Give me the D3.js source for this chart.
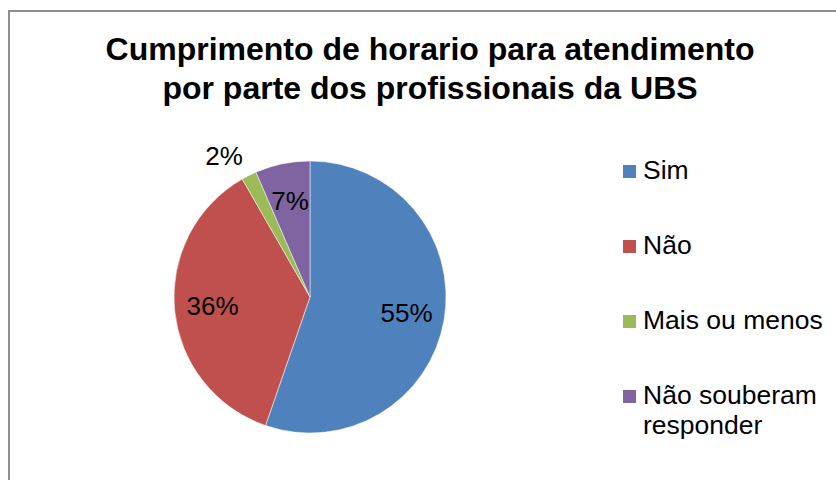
<!DOCTYPE html>
<html lang="pt">
<head>
<meta charset="utf-8">
<title>Cumprimento de horario</title>
<script src="https://cdn.jsdelivr.net/npm/d3@7"></script>
<style>
  body { margin: 0; background: #fff; }
  text { font-family: "Liberation Sans", Arial, sans-serif; }
</style>
</head>
<body>
<script>
// data
var categories = ["Sim", "Não", "Mais ou menos", "Não souberam responder"];
var values = [55.3, 36.4, 1.8, 6.5];
var colors = ["#4F81BD", "#C0504D", "#9BBB59", "#8064A2"];
var titleLines = ["Cumprimento de horario para atendimento", "por parte dos profissionais da UBS"];

var width = 836, height = 480;
var svg = d3.select("body").append("svg")
    .attr("width", width)
    .attr("height", height);

// chart frame
svg.append("rect")
    .attr("x", 9).attr("y", 11)
    .attr("width", 900).attr("height", 600)
    .attr("fill", "none")
    .attr("stroke", "#8e8e8e")
    .attr("stroke-width", 2);

// title
svg.append("g").selectAll("text")
    .data(titleLines)
  .enter().append("text")
    .attr("x", 430)
    .attr("y", function(d, i) { return 60 + i * 39; })
    .attr("text-anchor", "middle")
    .style("font-size", "32px")
    .style("font-weight", "bold")
    .text(function(d) { return d; });

// pie
var cx = 310, cy = 297, r = 136;
var pie = d3.pie().sort(null).value(function(d) { return d; });
var arcs = pie(values);
var arc = d3.arc().innerRadius(0).outerRadius(r);
var labelArc = d3.arc().innerRadius(r * 0.72).outerRadius(r * 0.72);
var outerArc = d3.arc().innerRadius(r * 1.1).outerRadius(r * 1.1);

function isSmall(d) { return (d.endAngle - d.startAngle) < 0.2; }

var g = svg.append("g").attr("transform", "translate(" + cx + "," + cy + ")");
g.selectAll("path")
    .data(arcs)
  .enter().append("path")
    .attr("d", arc)
    .attr("fill", function(d, i) { return colors[i]; })
    .attr("stroke", "#fff")
    .attr("stroke-width", 0.5);

g.selectAll("text.lbl")
    .data(arcs)
  .enter().append("text")
    .attr("class", "lbl")
    .attr("transform", function(d) {
      // small slices get the label outside, next to the rim
      if (isSmall(d)) {
        var o = outerArc.centroid(d);
        return "translate(" + o[0] + "," + (o[1] + 2) + ")";
      }
      var c = labelArc.centroid(d);
      return "translate(" + c[0] + "," + (c[1] + 9) + ")";
    })
    .attr("text-anchor", function(d) {
      if (!isSmall(d)) return "middle";
      return outerArc.centroid(d)[0] < 0 ? "end" : "start";
    })
    .style("font-size", "26px")
    .attr("fill", "#000")
    .text(function(d) { return Math.round(d.data) + "%"; });

// legend
var legend = svg.append("g").attr("transform", "translate(623,165)");
var item = legend.selectAll("g")
    .data(categories)
  .enter().append("g")
    .attr("transform", function(d, i) { return "translate(0," + i * 75 + ")"; });
item.append("rect")
    .attr("width", 13).attr("height", 13)
    .attr("fill", function(d, i) { return colors[i]; });
item.append("text")
    .attr("x", 20)
    .attr("y", 14)
    .style("font-size", "26.5px")
    .each(function(d) {
      var t = d3.select(this);
      var parts = d === "Não souberam responder" ? ["Não souberam", "responder"] : [d];
      parts.forEach(function(p, k) {
        t.append("tspan").attr("x", 20).attr("dy", k ? 30 : 0).text(p);
      });
    });
</script>
</body>
</html>
